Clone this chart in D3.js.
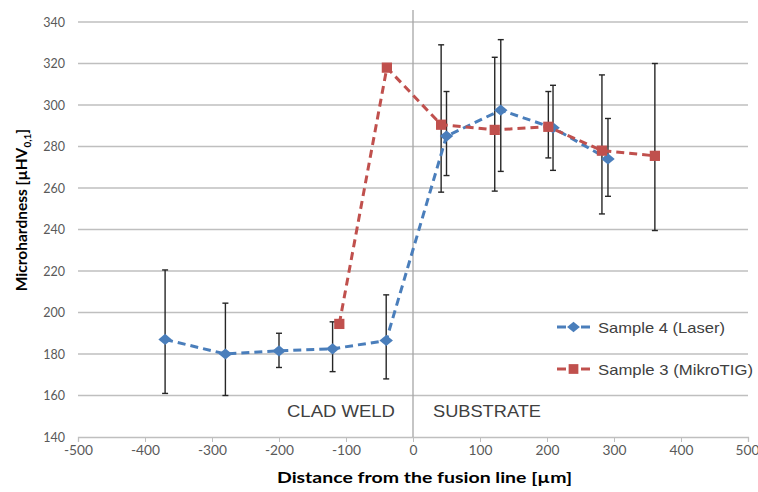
<!DOCTYPE html>
<html>
<head>
<meta charset="utf-8">
<script src="https://cdn.jsdelivr.net/npm/d3@7"></script>
<style>
  body { margin: 0; background: #fff; }
  svg { display: block; }
</style>
</head>
<body>
<div id="chart"></div>
<script>
var xTicks = [-500, -400, -300, -200, -100, 0, 100, 200, 300, 400, 500];
var yTicks = [140, 160, 180, 200, 220, 240, 260, 280, 300, 320, 340];

// Sample 4 (Laser)
var laserX   = [-370, -280, -200, -120, -40, 50, 131, 209, 291];
var laserY   = [187, 180, 181.5, 182.5, 186.5, 285, 297.5, 289, 274];
var laserLow = [161, 160, 173.5, 171.5, 168, 266, 268, 268.5, 256];
var laserHi  = [220.5, 204.5, 190, 195.5, 208.5, 306.5, 331.5, 309.5, 293.5];

// Sample 3 (MikroTIG)
var tigX   = [-110, -39, 42, 122, 202, 282, 361];
var tigY   = [194.5, 318, 290.5, 288, 289.5, 278, 275.5];
var tigLow = [null, null, 258, 258.5, 274.5, 247.5, 239.5];
var tigHi  = [null, null, 329, 323, 306.5, 314.5, 320];

var W = 758, H = 492;
var m = { left: 78, right: 10, top: 22, bottom: 55 };

var svg = d3.select('#chart').append('svg').attr('width', W).attr('height', H);

var x = d3.scaleLinear().domain([-500, 500]).range([m.left, W - m.right]);
var y = d3.scaleLinear().domain([140, 340]).range([H - m.bottom, m.top]);

// gridlines
svg.append('g')
  .selectAll('line')
  .data(yTicks.slice(1))
  .enter().append('line')
    .attr('x1', x(-500)).attr('x2', x(500))
    .attr('y1', function(d) { return y(d); })
    .attr('y2', function(d) { return y(d); })
    .style('stroke', '#bfbfbf')
    .style('stroke-width', 1.3);

// x axis
var xAxis = svg.append('g')
  .attr('transform', 'translate(0,' + y(140) + ')')
  .call(d3.axisBottom(x).tickValues(xTicks).tickSize(5).tickPadding(4).tickFormat(function(d) { return String(d); }));
xAxis.select('.domain').style('stroke', '#bfbfbf').style('stroke-width', 1.3);
xAxis.selectAll('.tick line').style('stroke', '#bfbfbf');
xAxis.selectAll('text').style('fill', '#595959').style('font-family', 'Lato, sans-serif').style('font-size', '12.5px')
  .attr('transform', 'scale(1.1,1)');
xAxis.selectAll('.tick').filter(function(d) { return d === 500; }).select('text')
  .attr('text-anchor', 'end').attr('x', 10);

// y axis (labels only)
var yAxis = svg.append('g')
  .attr('transform', 'translate(' + m.left + ',0)')
  .call(d3.axisLeft(y).tickValues(yTicks).tickSize(0).tickPadding(13));
yAxis.select('.domain').remove();
yAxis.selectAll('text').style('fill', '#595959').style('font-family', 'Lato, sans-serif').style('font-size', '12.5px');

// fusion line
svg.append('line')
  .attr('x1', x(0)).attr('x2', x(0))
  .attr('y1', 10).attr('y2', y(140))
  .style('stroke', '#a6a6a6')
  .style('stroke-width', 1.3);

// zone labels
svg.append('text')
  .attr('x', x(0) - 126).attr('y', y(140) - 20)
  .attr('textLength', 108).attr('lengthAdjust', 'spacingAndGlyphs')
  .style('font-family', 'Liberation Sans, Arial, sans-serif')
  .style('font-size', '16.5px').style('fill', '#404040')
  .text('CLAD WELD');
svg.append('text')
  .attr('x', x(0) + 20).attr('y', y(140) - 20)
  .attr('textLength', 108).attr('lengthAdjust', 'spacingAndGlyphs')
  .style('font-family', 'Liberation Sans, Arial, sans-serif')
  .style('font-size', '16.5px').style('fill', '#404040')
  .text('SUBSTRATE');

// axis titles
svg.append('text')
  .attr('x', 277).attr('y', H - 9)
  .attr('textLength', 295).attr('lengthAdjust', 'spacingAndGlyphs')
  .style('font-family', 'Lato, sans-serif').style('font-weight', 'bold')
  .style('font-size', '16px').style('fill', '#000')
  .text('Distance from the fusion line [µm]');

var yt = svg.append('text')
  .attr('transform', 'translate(27,' + 210 + ') rotate(-90)')
  .attr('text-anchor', 'middle')
  .style('font-family', 'Lato, sans-serif').style('font-weight', 'bold')
  .style('font-size', '15.5px').style('fill', '#000');
yt.append('tspan').text('Microhardness [µHV');
yt.append('tspan').attr('dy', 4).style('font-size', '10px').text('0,1');
yt.append('tspan').attr('dy', -4).text(']');

// error bars
function errorBars(xs, lo, hi) {
  var g = svg.append('g').style('stroke', '#262626').style('stroke-width', 1.4);
  xs.forEach(function(v, i) {
    if (lo[i] == null) return;
    g.append('line').attr('x1', x(v)).attr('x2', x(v)).attr('y1', y(lo[i])).attr('y2', y(hi[i]));
    g.append('line').attr('x1', x(v) - 3).attr('x2', x(v) + 3).attr('y1', y(lo[i])).attr('y2', y(lo[i]));
    g.append('line').attr('x1', x(v) - 3).attr('x2', x(v) + 3).attr('y1', y(hi[i])).attr('y2', y(hi[i]));
  });
}
errorBars(laserX, laserLow, laserHi);
errorBars(tigX, tigLow, tigHi);

var blue = '#4a7ebb', red = '#c0504d';

function marker(sel, shape, color, size) {
  if (shape === 'diamond') {
    sel.append('path')
      .attr('transform', 'scale(1.2,1) rotate(45)')
      .attr('d', d3.symbol().type(d3.symbolSquare).size(size * 0.6))
      .style('fill', color);
  } else {
    sel.append('path')
      .attr('d', d3.symbol().type(d3.symbolSquare).size(size))
      .style('fill', color);
  }
}

function series(xs, ys, color, shape) {
  var pts = xs.map(function(v, i) { return [v, ys[i]]; });
  svg.append('path')
    .datum(pts)
    .attr('d', d3.line().x(function(d) { return x(d[0]); }).y(function(d) { return y(d[1]); }))
    .style('fill', 'none')
    .style('stroke', color)
    .style('stroke-width', 3)
    .style('stroke-dasharray', '8,5');
  svg.append('g').selectAll('g')
    .data(pts)
    .enter().append('g')
      .attr('transform', function(d) { return 'translate(' + x(d[0]) + ',' + y(d[1]) + ')'; })
      .each(function() { marker(d3.select(this), shape, color, 105); });
}
series(laserX, laserY, blue, 'diamond');
series(tigX, tigY, red, 'square');

// legend
var legend = [
  { name: 'Sample 4 (Laser)', color: blue, shape: 'diamond', yy: 327, len: 127 },
  { name: 'Sample 3 (MikroTIG)', color: red, shape: 'square', yy: 369, len: 155 }
];
legend.forEach(function(l) {
  var g = svg.append('g').attr('transform', 'translate(557,' + l.yy + ')');
  g.append('line').attr('x1', 0).attr('x2', 9).style('stroke', l.color).style('stroke-width', 3);
  g.append('line').attr('x1', 24).attr('x2', 33).style('stroke', l.color).style('stroke-width', 3);
  var mk = g.append('g').attr('transform', 'translate(16.5,0)');
  marker(mk, l.shape, l.color, 95);
  g.append('text').attr('x', 41).attr('y', 5.5)
    .attr('textLength', l.len).attr('lengthAdjust', 'spacingAndGlyphs')
    .style('font-family', 'Liberation Sans, Arial, sans-serif')
    .style('font-size', '15px').style('fill', '#404040')
    .text(l.name);
});
</script>
</body>
</html>
